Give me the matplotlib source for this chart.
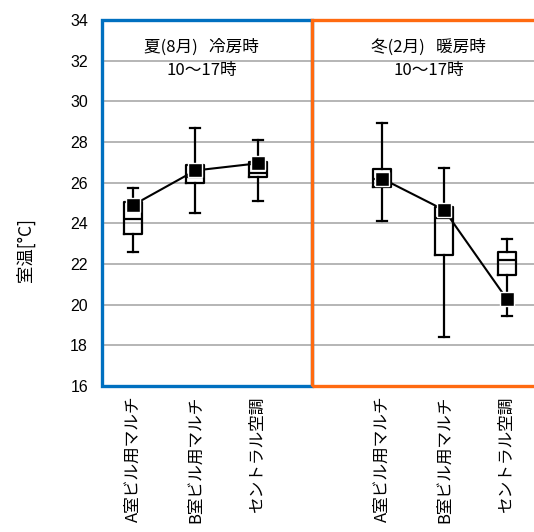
import matplotlib.pyplot as plt
from matplotlib.patches import Rectangle

plt.rcParams['font.family'] = ['Noto Sans CJK JP', 'DejaVu Sans']

labels = ["A室ビル用マルチ", "B室ビル用マルチ", "セントラル空調",
          "A室ビル用マルチ", "B室ビル用マルチ", "セントラル空調"]
positions = [0, 1, 2, 4, 5, 6]

whis_lo = [22.6, 24.5, 25.1, 24.1, 18.4, 19.45]
q1 = [23.5, 26.0, 26.3, 25.8, 22.45, 21.45]
med = [24.2, 26.3, 26.5, 26.2, 24.25, 22.2]
q3 = [25.05, 26.85, 27.0, 26.65, 24.8, 22.6]
whis_hi = [25.75, 28.7, 28.1, 28.95, 26.7, 23.25]
means = [24.9, 26.6, 26.95, 26.2, 24.65, 20.3]

panel_titles = ["夏(8月)   冷房時", "冬(2月)   暖房時"]
panel_hours = ["10〜17時", "10〜17時"]

fig = plt.figure(figsize=(5.34, 5.32), dpi=100)
ax = fig.add_axes([0.191, 0.2744, 0.809 + 0.05, 0.688])

ax.set_ylim(16, 34)
ax.set_yticks(range(16, 35, 2))
ax.set_xlim(-0.5, 6.47 + 0.4)
ax.yaxis.grid(True, color="#b0b0b0", linewidth=1.3)
ax.set_axisbelow(True)

stats = []
for i in range(len(positions)):
    stats.append({"whislo": whis_lo[i], "q1": q1[i], "med": med[i],
                  "q3": q3[i], "whishi": whis_hi[i], "fliers": []})

lw = 1.6
ax.bxp(stats, positions=positions, widths=0.29, showfliers=False,
       boxprops=dict(color="black", linewidth=lw),
       medianprops=dict(color="black", linewidth=lw),
       whiskerprops=dict(color="black", linewidth=lw),
       capprops=dict(color="black", linewidth=lw),
       capwidths=0.16, patch_artist=False, manage_ticks=False)

for sl in (slice(0, 3), slice(3, 6)):
    ax.plot(positions[sl], means[sl], color="black", linewidth=1.5,
            marker="s", markersize=10.5, markerfacecolor="black",
            markeredgecolor="white", markeredgewidth=1, zorder=5)

ax.add_patch(Rectangle((-0.5, 16), 3.37, 18, fill=False,
                       edgecolor="#0070C0", linewidth=2.4, clip_on=False, zorder=6))
ax.add_patch(Rectangle((2.87, 16), 4.2, 18, fill=False,
                       edgecolor="#FF6A10", linewidth=2.4, clip_on=False, zorder=6))

ax.text(1.1, 32.65, panel_titles[0], ha="center", va="center", fontsize=12)
ax.text(1.1, 31.5, panel_hours[0], ha="center", va="center", fontsize=12)
ax.text(4.75, 32.65, panel_titles[1], ha="center", va="center", fontsize=12)
ax.text(4.75, 31.5, panel_hours[1], ha="center", va="center", fontsize=12)

ax.set_xticks(positions)
ax.set_xticklabels(labels, rotation=90, va="top", ha="center", fontsize=12)
ax.tick_params(axis="x", length=0, pad=7)
ax.tick_params(axis="y", length=0, pad=10)
for t in ax.get_yticklabels():
    t.set_fontfamily("Liberation Sans")
    t.set_fontsize(11.5)
for s in ax.spines.values():
    s.set_visible(False)

fig.text(25 / 534, 1 - 250 / 532, "室温[°C]", rotation=90,
         ha="center", va="center", fontsize=12.5)

fig.savefig("out.png", dpi=100)
